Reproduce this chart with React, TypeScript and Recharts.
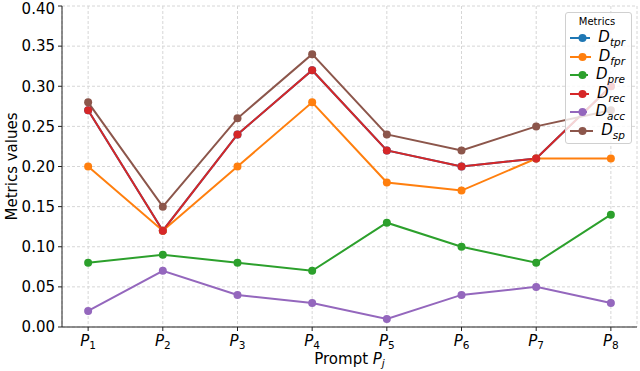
import { CartesianGrid, Legend, Line, LineChart, XAxis, YAxis } from "recharts";

// prompts P1..P8
const prompts = [1, 2, 3, 4, 5, 6, 7, 8];
const yTicks = [0, 0.05, 0.1, 0.15, 0.2, 0.25, 0.3, 0.35, 0.4];

const dTpr = [0.27, 0.12, 0.24, 0.32, 0.22, 0.2, 0.21, 0.3];
const dFpr = [0.2, 0.12, 0.2, 0.28, 0.18, 0.17, 0.21, 0.21];
const dPre = [0.08, 0.09, 0.08, 0.07, 0.13, 0.1, 0.08, 0.14];
const dRec = [0.27, 0.12, 0.24, 0.32, 0.22, 0.2, 0.21, 0.3];
const dAcc = [0.02, 0.07, 0.04, 0.03, 0.01, 0.04, 0.05, 0.03];
const dSp = [0.28, 0.15, 0.26, 0.34, 0.24, 0.22, 0.25, 0.27];

const series = [
  { key: "tpr", color: "#1f77b4", values: dTpr },
  { key: "fpr", color: "#ff7f0e", values: dFpr },
  { key: "pre", color: "#2ca02c", values: dPre },
  { key: "rec", color: "#d62728", values: dRec },
  { key: "acc", color: "#9467bd", values: dAcc },
  { key: "sp", color: "#8c564b", values: dSp },
];

const data = prompts.map((p, i) => {
  const row: Record<string, number> = { p };
  series.forEach((s) => (row[s.key] = s.values[i]));
  return row;
});

const FONT = "DejaVu Sans";

function PromptTick({ x, y, payload }: any) {
  return (
    <text x={x} y={y + 13} textAnchor="middle" fontSize={15} fill="#000" fontFamily={FONT}>
      <tspan fontStyle="italic">P</tspan>
      <tspan fontSize={10.5} dy={3}>{payload.value}</tspan>
    </text>
  );
}

function XLabel({ viewBox }: any) {
  const cx = viewBox.x + viewBox.width / 2;
  return (
    <text x={cx} y={364} textAnchor="middle" fontSize={15} fill="#000" fontFamily={FONT}>
      Prompt <tspan fontStyle="italic">P</tspan>
      <tspan fontSize={10.5} fontStyle="italic" dy={3}>j</tspan>
    </text>
  );
}

function YLabel({ viewBox }: any) {
  const cy = viewBox.y + viewBox.height / 2;
  return (
    <text
      x={17}
      y={cy}
      transform={`rotate(-90 17 ${cy})`}
      textAnchor="middle"
      fontSize={15}
      fill="#000"
      fontFamily={FONT}
    >
      Metrics values
    </text>
  );
}

function MetricsLegend() {
  return (
    <div
      style={{
        background: "rgba(255,255,255,0.8)",
        border: "1px solid #d0d0d0",
        borderRadius: 3,
        padding: "3px 6px 3px 3px",
        fontFamily: FONT,
        color: "#000",
      }}
    >
      <div style={{ fontSize: 10, lineHeight: "12px", textAlign: "center", marginBottom: 1 }}>Metrics</div>
      {series.map((s) => (
        <div key={s.key} style={{ display: "flex", alignItems: "center", height: 18.5 }}>
          <svg width={27} height={12} style={{ marginRight: 8 }}>
            <line x1={1} y1={6} x2={26} y2={6} stroke={s.color} strokeWidth={2} />
            <circle cx={13.5} cy={6} r={4} fill={s.color} />
          </svg>
          <span style={{ fontSize: 15, fontStyle: "italic" }}>
            D<sub style={{ fontSize: 10.5, verticalAlign: "-4px" }}>{s.key}</sub>
          </span>
        </div>
      ))}
    </div>
  );
}

export default function App() {
  document.body.style.margin = "0";
  return (
    <div style={{ width: 640, height: 371, background: "#fff" }}>
      <LineChart
        width={640}
        height={371}
        data={data}
        margin={{ top: 6, right: 3, bottom: 0, left: 0 }}
        style={{ fontFamily: FONT }}
      >
        <CartesianGrid stroke="#d6d6d6" strokeDasharray="3 2" />
        <XAxis
          dataKey="p"
          type="number"
          domain={[0.65, 8.35]}
          ticks={prompts}
          tick={<PromptTick />}
          tickSize={4}
          tickMargin={2}
          height={44}
          stroke="#222"
          axisLine={{ stroke: "#222", strokeWidth: 1 }}
          label={<XLabel />}
          allowDataOverflow
        />
        <XAxis xAxisId="top" dataKey="p" type="number" domain={[0.65, 8.35]} orientation="top" height={0} tick={false} tickLine={false} stroke="#222" />
        <YAxis
          domain={[0, 0.4]}
          ticks={yTicks}
          tickFormatter={(v: number) => v.toFixed(2)}
          tick={{ fontSize: 15, fill: "#000" }}
          tickSize={4}
          tickMargin={3}
          width={62}
          stroke="#222"
          label={<YLabel />}
          allowDataOverflow
        />
        <YAxis yAxisId="right" orientation="right" domain={[0, 0.4]} width={0} tick={false} tickLine={false} stroke="#222" />
        <Legend
          layout="vertical"
          align="center"
          verticalAlign="middle"
          content={<MetricsLegend />}
          wrapperStyle={{ top: 12, left: 565, width: 67 }}
        />
        {series.map((s) => (
          <Line
            key={s.key}
            dataKey={s.key}
            stroke={s.color}
            strokeWidth={2}
            dot={{ r: 4, fill: s.color, stroke: s.color, strokeWidth: 0 }}
            activeDot={false}
            isAnimationActive={false}
          />
        ))}
      </LineChart>
    </div>
  );
}
